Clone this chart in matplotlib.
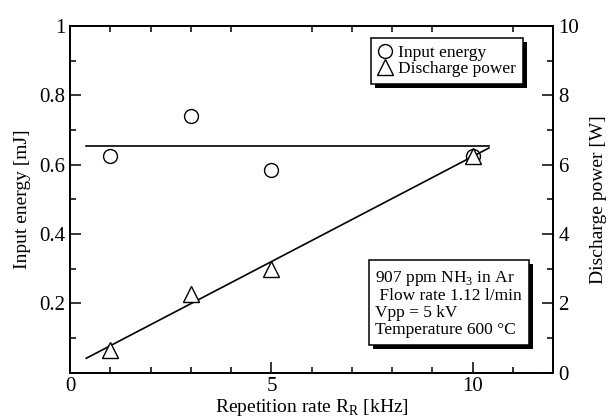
import numpy as np
import matplotlib
matplotlib.use("Agg")
import matplotlib.pyplot as plt
import matplotlib.patheffects as pe
from matplotlib.lines import Line2D

plt.rcParams['font.family'] = ['Liberation Serif', 'DejaVu Serif']
plt.rcParams['mathtext.fontset'] = 'custom'
plt.rcParams['mathtext.rm'] = 'Liberation Serif'

# data
rate = [1, 3, 5, 10]                       # kHz
energy = [0.625, 0.74, 0.585, 0.625]       # mJ
power = [0.65, 2.28, 3.0, 6.25]            # W

fit_x = [0.4, 10.4]
energy_fit = [0.655, 0.655]
power_fit = [0.42, 6.48]

x_ticks = [0, 5, 10]
left_ticks = [0.2, 0.4, 0.6, 0.8, 1.0]
left_labels = ['0.2', '0.4', '0.6', '0.8', '1']
right_ticks = [0, 2, 4, 6, 8, 10]

fig = plt.figure(figsize=(6.1, 4.18), dpi=100)
ax = fig.add_axes([0.115, 0.108, 0.792, 0.83])
ax2 = ax.twinx()

ax.plot(fit_x, energy_fit, color='k', lw=1.2)
ax.plot(rate, energy, 'o', ms=10, mfc='white', mec='k', mew=1.0, zorder=3)
ax2.plot(fit_x, power_fit, color='k', lw=1.2)
ax2.plot(rate, power, '^', ms=11, mfc='white', mec='k', mew=1.0, zorder=3)

ax.set_xlim(0, 12)
ax.set_ylim(0, 1)
ax2.set_ylim(0, 10)

ax.set_xticks(x_ticks)
ax.set_xticks(np.arange(0, 13, 1), minor=True)
ax.set_yticks(left_ticks)
ax.set_yticklabels(left_labels)
ax.set_yticks(np.arange(0, 1.01, 0.1), minor=True)
ax2.set_yticks(right_ticks)
ax2.set_yticks(np.arange(0, 11, 1), minor=True)

for a in (ax, ax2):
    for s in a.spines.values():
        s.set_linewidth(1.3)
ax.tick_params(which='both', direction='in', top=True, labelsize=15, width=1.1)
ax.tick_params(which='major', length=8)
ax.tick_params(which='minor', length=4)
ax.tick_params(axis='x', which='major', pad=3)
ax.tick_params(axis='x', which='major', top=False)
ax2.tick_params(which='both', direction='in', labelsize=15, width=1.1)
ax2.tick_params(which='major', length=8)
ax2.tick_params(which='minor', length=4)

ax.set_xlabel('Repetition rate R$_\\mathregular{R}$ [kHz]', fontsize=14, labelpad=1)
ax.set_ylabel('Input energy [mJ]', fontsize=14, labelpad=6)
ax2.set_ylabel('Discharge power [W]', fontsize=14, labelpad=8)

shadow = [pe.SimplePatchShadow(offset=(3, -3), shadow_rgbFace='k', alpha=1.0), pe.Normal()]

handles = [Line2D([], [], marker='o', ls='', ms=10, mfc='white', mec='k', mew=1.0),
           Line2D([], [], marker='^', ls='', ms=11, mfc='white', mec='k', mew=1.0)]
leg = ax.legend(handles, ['Input energy', 'Discharge power'], loc='upper right',
                bbox_to_anchor=(0.938, 0.965), borderaxespad=0, fontsize=12.5,
                handlelength=0.8, handletextpad=0.4, labelspacing=0.0,
                borderpad=0.4, fancybox=False, framealpha=1, edgecolor='k')
leg.get_frame().set_linewidth(1.1)
leg.get_frame().set_path_effects(shadow)
leg.set_zorder(5)

info = ax.text(0.632, 0.3,
               '907 ppm NH$_\\mathregular{3}$ in Ar\n Flow rate 1.12 l/min\nVpp = 5 kV\nTemperature 600 \u00b0C',
               transform=ax.transAxes, ha='left', va='top', fontsize=12.5, linespacing=1.05,
               bbox=dict(boxstyle='square,pad=0.4', fc='white', ec='k', lw=1.1), zorder=5)
info.get_bbox_patch().set_path_effects(shadow)

fig.savefig('out.png', dpi=100)
